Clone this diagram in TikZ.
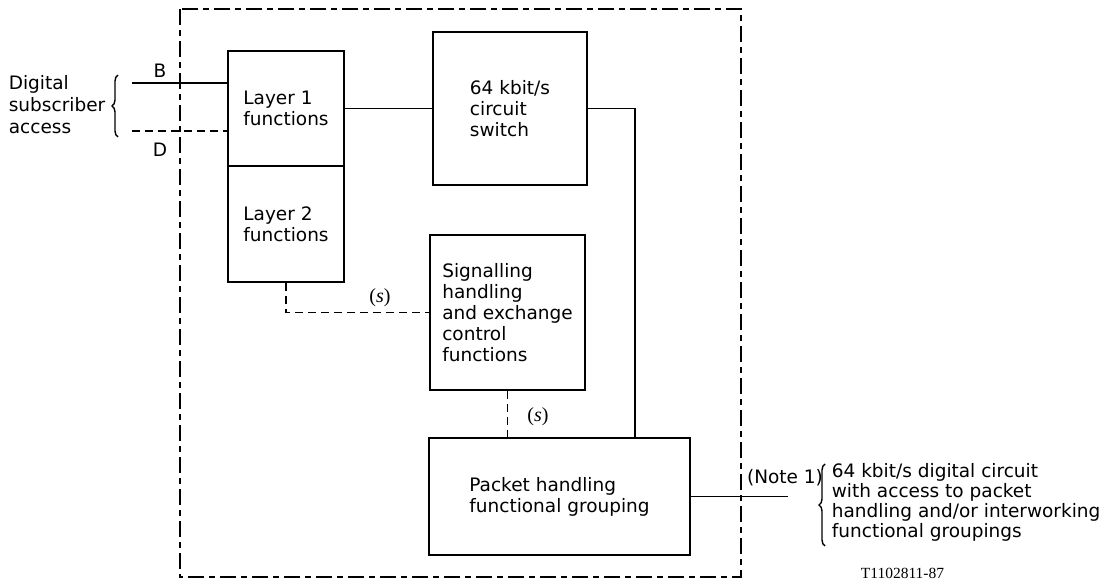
\documentclass[tikz,border=0pt]{standalone}
\usepackage{fontspec}
\setmainfont{DejaVu Sans}
\newfontfamily\figserif{Liberation Serif}
\usepackage{tikz}
\usetikzlibrary{decorations.pathreplacing}

\newcommand\lbl{\fontsize{18.5}{21}\selectfont}

\begin{document}
\begin{tikzpicture}[x=1pt, y=-1pt, line width=1.7pt,
    box/.style={draw, align=left, font=\lbl, inner sep=0pt},
    txt/.style={font=\lbl, inner sep=0pt},
    sig/.style={dash pattern=on 8pt off 5pt},
    frame/.style={dash pattern=on 16pt off 5pt on 6pt off 5pt},
    brc/.style={decorate, decoration={brace, amplitude=6pt}, line width=1.4pt}]
  \useasboundingbox (0,0) rectangle (1115,588);

  % Exchange boundary
  \draw[frame] (180,9) rectangle (741,577);

  % Boxes
  \node[box, minimum width=116pt, minimum height=115pt] (l1) at (286,108.5) {Layer 1\\functions};
  \node[box, minimum width=116pt, minimum height=116pt] (l2) at (286,224) {Layer 2\\functions};
  \node[box, minimum width=154pt, minimum height=153pt] (sw) at (510,108.5) {64 kbit/s\\circuit\\switch};
  \node[box, minimum width=155pt, minimum height=155pt] (sg) at (507.5,312.5) {Signalling\\handling\\and exchange\\control\\ functions};
  \node[box, minimum width=261pt, minimum height=117pt] (pk) at (559.5,496.5) {Packet handling\\functional grouping};

  % Access side
  \node[txt, align=left, anchor=west, font=\fontsize{18.5}{22}\selectfont] (dsa) at (8,105) {Digital\\subscriber\\access};
  \draw[brc] (118,137) -- (118,75);
  \coordinate (bin) at (132,83);
  \coordinate (din) at (132,131);
  \draw (bin) -- (bin -| l1.west);
  \draw[sig] (din) -- (din -| l1.west);
  \node[txt] (bl) at (160,71) {B};
  \node[txt] (dl) at (160,150) {D};

  % Connections
  \draw (l1.east) -- (sw.west);
  \draw (sw.east) -| ([xshift=75.5pt]pk.north);
  \draw[sig] (l2.south) |- (sg.west);
  \draw[sig] (sg.south) -- (sg.south |- pk.north);
  \node[txt, font=\figserif\fontsize{20}{22}\selectfont] (s1) at (380,298) {(\textit{s})};
  \node[txt, font=\figserif\fontsize{20}{22}\selectfont] (s2) at (538,417) {(\textit{s})};

  % Output side
  \coordinate (out) at (788,498);
  \draw (pk.east) -- (pk.east -| out);
  \node[txt] (note) at (785,478) {(Note 1)};
  \draw[brc] (825,546) -- (825,464);
  \node[txt, align=left, anchor=west, font=\fontsize{18.5}{20}\selectfont] (dest) at (831,502)
    {64 kbit/s digital circuit\\with access to packet\\handling and/or interworking\\functional groupings};

  \node[txt, anchor=west, font=\figserif\fontsize{15.5}{18}\selectfont] (ref) at (860,573) {T1102811-87};
\end{tikzpicture}
\end{document}
